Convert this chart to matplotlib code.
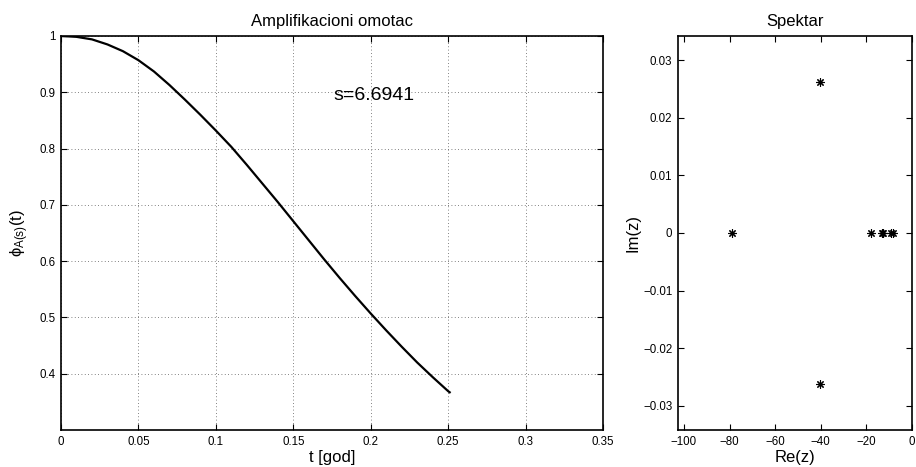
import matplotlib
matplotlib.use("Agg")
import matplotlib.pyplot as plt

plt.rcParams['font.family'] = ['Liberation Sans', 'DejaVu Sans']
plt.rcParams['mathtext.fontset'] = 'custom'
plt.rcParams['mathtext.rm'] = 'Liberation Sans'
plt.rcParams['mathtext.it'] = 'Liberation Sans'
plt.rcParams['mathtext.sf'] = 'Liberation Sans'

# amplifikacioni omotac, ocitano sa slike
t = [0.0, 0.01, 0.02, 0.03, 0.04, 0.05, 0.06, 0.07, 0.08, 0.09, 0.10,
     0.11, 0.12, 0.13, 0.14, 0.15, 0.16, 0.17, 0.18, 0.19, 0.20,
     0.21, 0.22, 0.23, 0.24, 0.25, 0.251]
phi = [1.000, 0.9985, 0.994, 0.985, 0.973, 0.957, 0.937, 0.913, 0.887, 0.860, 0.832,
       0.803, 0.771, 0.738, 0.705, 0.671, 0.637, 0.603, 0.570, 0.538, 0.507,
       0.477, 0.448, 0.420, 0.394, 0.369, 0.367]
s_text = 's=6.6941'

# spektar (sopstvene vrijednosti)
re_z = [-79.1, -40.2, -40.2, -18.1, -13.1, -12.7, -9.4, -8.3]
im_z = [0.0, 0.0262, -0.0262, 0.0, 0.0, 0.0, 0.0, 0.0]

xt1 = [0, 0.05, 0.1, 0.15, 0.2, 0.25, 0.3, 0.35]
xt1_lab = ['0', '0.05', '0.1', '0.15', '0.2', '0.25', '0.3', '0.35']
yt1 = [0.4, 0.5, 0.6, 0.7, 0.8, 0.9, 1.0]
yt1_lab = ['0.4', '0.5', '0.6', '0.7', '0.8', '0.9', '1']
xt2 = [-100, -80, -60, -40, -20, 0]
xt2_lab = ['\u2212100', '\u221280', '\u221260', '\u221240', '\u221220', '0']
yt2 = [-0.03, -0.02, -0.01, 0, 0.01, 0.02, 0.03]
yt2_lab = ['\u22120.03', '\u22120.02', '\u22120.01', '0', '0.01', '0.02', '0.03']

W, H = 916, 467
fig = plt.figure(figsize=(W / 100, H / 100), dpi=100)
ax1 = fig.add_axes([61 / W, 1 - 430 / H, (603 - 61) / W, (430 - 36) / H])
ax2 = fig.add_axes([678 / W, 1 - 430 / H, (912 - 678) / W, (430 - 36) / H])


def matlab_style(ax):
    for sp in ax.spines.values():
        sp.set_linewidth(1.2)
    ax.tick_params(direction='in', top=True, right=True, length=4, width=0.8,
                   labelsize=8.3, pad=4)


ax1.plot(t, phi, color='black', linewidth=1.6)
ax1.set_xlim(0, 0.35)
ax1.set_ylim(0.3, 1.0)
ax1.set_xticks(xt1)
ax1.set_xticklabels(xt1_lab)
ax1.set_yticks(yt1)
ax1.set_yticklabels(yt1_lab)
ax1.grid(True, color='0.35', linestyle=(0, (1, 3)), linewidth=0.6)
ax1.set_axisbelow(True)
matlab_style(ax1)
ax1.set_title('Amplifikacioni omotac', fontsize=12, pad=7)
ax1.set_xlabel('t [god]', fontsize=12, labelpad=2)
ax1.set_ylabel(r'$\phi_{A(s)}(t)$', fontsize=12, labelpad=6)
ax1.text(0.176, 0.895, s_text, fontsize=14, ha='left', va='center')

ax2.plot(re_z, im_z, linestyle='none', marker=(8, 2, 0), markersize=6,
         markeredgewidth=0.8, color='black')
ax2.set_xlim(-102.6, 0)
ax2.set_ylim(-0.0342, 0.0342)
ax2.set_xticks(xt2)
ax2.set_xticklabels(xt2_lab)
ax2.set_yticks(yt2)
ax2.set_yticklabels(yt2_lab)
matlab_style(ax2)
ax2.set_title('Spektar', fontsize=12, pad=7)
ax2.set_xlabel('Re(z)', fontsize=12, labelpad=2)
ax2.set_ylabel('Im(z)', fontsize=12, labelpad=2)

fig.savefig('out.png', dpi=100)
